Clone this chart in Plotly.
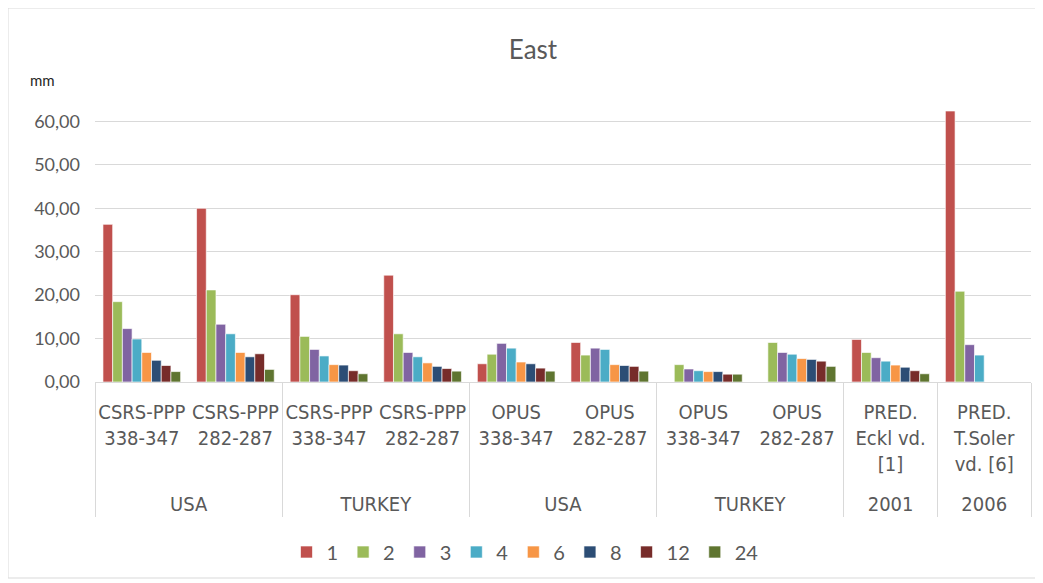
import plotly.graph_objects as go

outer = ["<br>USA", "<br>USA", "<br>TURKEY", "<br>TURKEY", "<br>USA\u200b", "<br>USA\u200b",
         "<br>TURKEY\u200b", "<br>TURKEY\u200b", "<br>2001", "<br>2006"]
inner = ["CSRS-PPP<br>338-347", "CSRS-PPP<br>282-287",
         "CSRS-PPP<br>338-347", "CSRS-PPP<br>282-287",
         "OPUS<br>338-347", "OPUS<br>282-287",
         "OPUS<br>338-347", "OPUS<br>282-287",
         "PRED.<br>Eckl vd.<br>[1]", "PRED.<br>T.Soler<br>vd. [6]"]

series_names = ["1", "2", "3", "4", "6", "8", "12", "24"]
s1 = [36.3, 40.0, 20.1, 24.6, 4.2, 9.1, None, None, 9.8, 62.4]
s2 = [18.5, 21.2, 10.5, 11.1, 6.4, 6.2, 4.0, 9.1, 6.8, 20.9]
s3 = [12.3, 13.3, 7.5, 6.8, 8.9, 7.8, 3.0, 6.8, 5.6, 8.6]
s4 = [9.9, 11.1, 6.0, 5.8, 7.8, 7.5, 2.6, 6.4, 4.8, 6.2]
s6 = [6.8, 6.8, 4.0, 4.4, 4.6, 4.0, 2.4, 5.4, 3.9, None]
s8 = [5.0, 5.8, 3.9, 3.6, 4.2, 3.8, 2.4, 5.2, 3.4, None]
s12 = [3.8, 6.5, 2.6, 3.1, 3.2, 3.6, 1.8, 4.8, 2.6, None]
s24 = [2.4, 2.9, 1.9, 2.5, 2.5, 2.5, 1.8, 3.6, 1.9, None]
series_values = [s1, s2, s3, s4, s6, s8, s12, s24]
colors = ["#C0504D", "#9BBB59", "#8064A2", "#4BACC6",
          "#F79646", "#2C4D75", "#772C2A", "#5F7530"]

FONT = "Lato, 'Liberation Sans', sans-serif"
NARROW = "'Liberation Sans Narrow', 'DejaVu Sans Condensed', Lato, sans-serif"
GRAY = "#595959"

# page offset of 8px (body margin) is compensated in the geometry below
PH = 304.0  # plot height in px


def px_x(p):
    return (p - 95) / 936.0


def px_y(p):
    return (382 - p) / PH


fig = go.Figure()
for name, vals, col in zip(series_names, series_values, colors):
    fig.add_trace(go.Bar(
        x=[outer, inner], y=vals, name=name,
        marker=dict(color=col, line=dict(color="rgba(255,255,255,0.8)", width=0.8)),
    ))

fig.update_layout(
    width=1035, height=575,
    margin=dict(l=87, r=12, t=70, b=201),
    paper_bgcolor="white", plot_bgcolor="white",
    barmode="group", bargap=0.17, bargroupgap=0,
    separators=",.",
    font=dict(family=FONT, color=GRAY, size=16),
    title=dict(text="East", x=525 / 1035, xref="container", xanchor="center",
               y=1 - 42 / 575, yref="container", yanchor="middle",
               font=dict(size=26, color=GRAY, family=FONT)),
    legend=dict(orientation="h", x=px_x(525), xanchor="center",
                y=px_y(552), yanchor="middle",
                font=dict(size=20, color=GRAY), traceorder="normal"),
    xaxis=dict(type="multicategory", showline=True, linecolor="#d9d9d9",
               linewidth=1, showdividers=True, dividercolor="#d9d9d9",
               dividerwidth=1, ticks="", tickangle=0, ticklabelstandoff=12,
               tickfont=dict(size=20, color=GRAY, family=NARROW)),
    yaxis=dict(range=[0, 70], tickvals=[0, 10, 20, 30, 40, 50, 60],
               tickformat=".2f", showgrid=True, gridcolor="#d9d9d9",
               gridwidth=1, zeroline=False, showline=False,
               tickfont=dict(size=18, color=GRAY), ticklabelstandoff=14),
    shapes=[dict(type="rect", xref="paper", yref="paper",
                 x0=px_x(8), x1=px_x(1036), y0=px_y(578), y1=px_y(8),
                 line=dict(color="#d9d9d9", width=1), layer="below")],
    annotations=[dict(text="mm", xref="paper", yref="paper",
                      x=px_x(42), y=px_y(80),
                      showarrow=False, font=dict(size=15, color="#262626"),
                      xanchor="center", yanchor="middle")],
)

fig.write_html("out.html")
